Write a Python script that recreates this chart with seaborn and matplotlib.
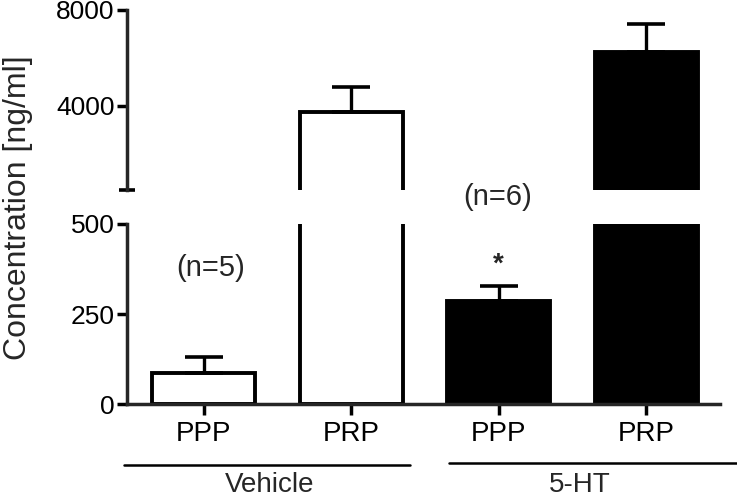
import matplotlib
matplotlib.use("Agg")
import matplotlib.pyplot as plt
import pandas as pd
import numpy as np
import seaborn as sns

sns.set_style("ticks")
plt.rcParams['font.family'] = ['Liberation Sans', 'DejaVu Sans']

# data (mean +/- SEM, ng/ml)
keys = ["veh_ppp", "veh_prp", "ht_ppp", "ht_prp"]
tick_labels = ["PPP", "PRP", "PPP", "PRP"]
treatment = ["Vehicle", "Vehicle", "5-HT", "5-HT"]
means = [86, 3750, 286, 6250]
sems = [44, 1040, 42, 1170]
groups = ["Vehicle", "5-HT"]
n_labels = ["(n=5)", "(n=6)"]

df = pd.DataFrame({"key": keys, "value": means, "treatment": treatment})
pal = {"Vehicle": "white", "5-HT": "black"}

fig = plt.figure(figsize=(7.37, 4.97), dpi=100)
ax_top = fig.add_axes([0.1723, 0.6177, 0.8046, 0.3622])
ax_bot = fig.add_axes([0.1723, 0.1871, 0.8046, 0.3622])

x = np.arange(len(keys))
for ax in (ax_top, ax_bot):
    sns.barplot(data=df, x="key", y="value", hue="treatment", palette=pal,
                order=keys, hue_order=groups, dodge=False, width=0.7,
                edgecolor="black", linewidth=2.8, errorbar=None,
                legend=False, ax=ax)
    ax.errorbar(x, means, yerr=[np.zeros(len(means)), sems], fmt="none",
                ecolor="black", elinewidth=2.4, capsize=14, capthick=2.6)
    ax.set_xlim(-0.52, 3.5)
    ax.set_xlabel("")
    ax.set_ylabel("")
    for s in ["top", "right"]:
        ax.spines[s].set_visible(False)
    for s in ["left", "bottom"]:
        ax.spines[s].set_linewidth(2.5)
    ax.tick_params(axis="both", length=7, width=2.5, labelsize=19, colors="black", pad=2)

ax_top.set_ylim(500, 8000)
ax_top.set_yticks([4000, 8000])
ax_top.spines["bottom"].set_visible(False)
ax_top.set_xticks([])
# break cap at bottom of upper axis
ax_top.plot([0], [500], marker="_", markersize=12, markeredgewidth=2.6,
            color="black", transform=ax_top.get_yaxis_transform(), clip_on=False)

ax_bot.set_ylim(0, 500)
ax_bot.set_yticks([0, 250, 500])
ax_bot.set_xticks(x)
ax_bot.set_xticklabels(tick_labels)
ax_bot.tick_params(axis="x", length=8, pad=4, labelsize=20)

# annotations
ax_bot.text(0.05, 378, n_labels[0], ha="center", va="center", fontsize=21)
ax_bot.text(1.99, 575, n_labels[1], ha="center", va="center", fontsize=21, clip_on=False)
ax_bot.text(2.0, 388, "*", ha="center", va="center", fontsize=20, fontweight="bold")

# group lines under x ticks
tr = ax_bot.get_xaxis_transform()
ax_bot.plot([-0.54, 1.40], [-0.339, -0.339], color="black", lw=1.8, transform=tr, clip_on=False)
ax_bot.plot([1.66, 3.62], [-0.33, -0.33], color="black", lw=1.8, transform=tr, clip_on=False)
ax_bot.text(0.45, -0.45, groups[0], ha="center", va="center", fontsize=20, transform=tr)
ax_bot.text(2.55, -0.45, groups[1], ha="center", va="center", fontsize=20, transform=tr)

fig.text(0.024, 0.583, "Concentration [ng/ml]", rotation=90, ha="center", va="center", fontsize=23)

fig.savefig("out.png", dpi=100)
